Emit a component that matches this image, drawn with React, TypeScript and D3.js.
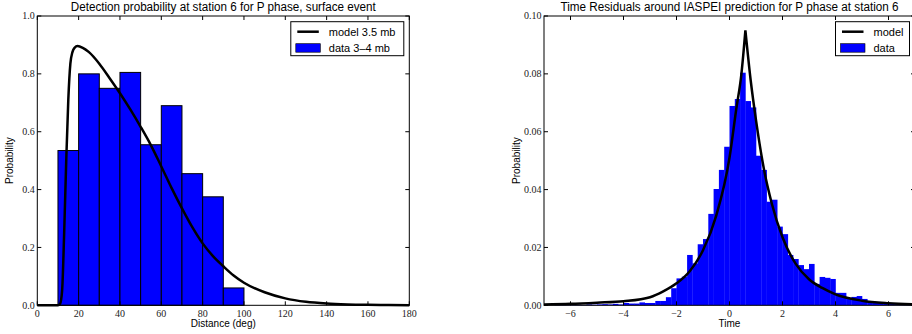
import * as d3 from "d3";

const W = 912;
const H = 334;

/* ---------------- left panel: detection probability ---------------- */

const distBinLeft = [10, 20, 30, 40, 50, 60, 70, 80, 90];
const distBinWidth = 10;
const distProb = [0.535, 0.8, 0.75, 0.805, 0.555, 0.69, 0.455, 0.375, 0.06];

const distModelX = [
  0, 10, 11, 12, 13, 14, 15, 16, 17, 18, 19.5, 22, 25, 30, 35, 40, 45, 50, 55, 60,
  65, 70, 75, 80, 85, 90, 95, 100, 110, 120, 130, 140, 150, 160, 170, 180,
];
const distModelY = [
  0, 0, 0.005, 0.05, 0.25, 0.5, 0.71, 0.835, 0.875, 0.89, 0.896, 0.89, 0.875, 0.835,
  0.785, 0.733, 0.677, 0.617, 0.553, 0.48, 0.405, 0.335, 0.27, 0.214, 0.17, 0.135,
  0.103, 0.078, 0.045, 0.024, 0.012, 0.006, 0.003, 0.0015, 0.0007, 0.0003,
];

const distXTicks = [0, 20, 40, 60, 80, 100, 120, 140, 160, 180];
const distYTicks = [0, 0.2, 0.4, 0.6, 0.8, 1.0];

/* ---------------- right panel: time residuals ---------------- */

const residFirstBin = -6.6;
const residBinWidth = 0.2;
const residProb = [
  0.0001, 0.0002, 0.0001, 0.0002, 0.0002, 0.0001, 0.0003, 0.0002, 0.0003, 0.0004,
  0.0003, 0.0005, 0.0003, 0.0008, 0.0006, 0.0006, 0.001, 0.0008, 0.0008, 0.0015,
  0.0015, 0.0028, 0.0059, 0.0093, 0.0099, 0.0174, 0.0145, 0.0211, 0.0229, 0.0316,
  0.0402, 0.0468, 0.0548, 0.0689, 0.0713, 0.0804, 0.0706, 0.0684, 0.0517, 0.0468,
  0.0358, 0.0365, 0.0272, 0.0246, 0.0174, 0.016, 0.0139, 0.0125, 0.0143, 0.0074,
  0.0098, 0.0095, 0.0091, 0.0043, 0.0043, 0.0025, 0.0029, 0.0032, 0.0022, 0.0014,
  0.0011, 0.0008, 0.0007, 0.0006, 0.0004, 0.0003, 0.0002, 0.0001,
];

// model curve, split at the peak so the cusp stays sharp
const residModelLeftX = [-7, -6, -5, -4, -3, -2.5, -2, -1.5, -1, -0.5, 0, 0.25, 0.45, 0.6];
const residModelLeftY = [
  0.0003, 0.0005, 0.0009, 0.0014, 0.0028, 0.0048, 0.0076, 0.0118, 0.019, 0.031, 0.051,
  0.0675, 0.08, 0.095,
];
const residModelRightX = [0.6, 0.8, 1.0, 1.3, 1.6, 2.0, 2.5, 3.0, 3.5, 4.0, 5.0, 6.0, 7.0];
const residModelRightY = [
  0.095, 0.0777, 0.064, 0.047, 0.035, 0.0235, 0.0143, 0.009, 0.006, 0.0038, 0.0016,
  0.0007, 0.0003,
];

const residXTicks = [-6, -4, -2, 0, 2, 4, 6];
const residYTicks = [0, 0.02, 0.04, 0.06, 0.08, 0.1];

/* ---------------- shared bits ---------------- */

const SANS = "'Liberation Sans', Arial, sans-serif";
const SERIF = "'Liberation Serif', 'Times New Roman', serif";
const BLUE = "#0000ff";

const top = 16;
const bottom = 305.3;

type PanelProps = {
  left: number;
  right: number;
  xDomain: [number, number];
  yDomain: [number, number];
  xTicks: number[];
  yTicks: number[];
  xFmt: (v: number) => string;
  yFmt: (v: number) => string;
  title: string;
  titleWidth: number;
  xLabel: string;
  legendWidth: number;
  legendLabels: [string, string];
  render: (x: d3.ScaleLinear<number, number>, y: d3.ScaleLinear<number, number>) => JSX.Element;
};

function Panel(p: PanelProps) {
  const x = d3.scaleLinear().domain(p.xDomain).range([p.left, p.right]);
  const y = d3.scaleLinear().domain(p.yDomain).range([bottom, top]);
  const tl = 4;
  const cx = (p.left + p.right) / 2;
  const lgRight = p.right - 5.5;
  const lgLeft = lgRight - p.legendWidth;
  const lgTop = 21.7;
  return (
    <g>
      {p.render(x, y)}

      {/* spines */}
      <rect
        x={p.left}
        y={top}
        width={p.right - p.left}
        height={bottom - top}
        fill="none"
        stroke="#000"
        strokeWidth={1}
      />

      {/* ticks */}
      {p.xTicks.map((t) => (
        <g key={"x" + t}>
          <line x1={x(t)} x2={x(t)} y1={bottom} y2={bottom - tl} stroke="#000" />
          <line x1={x(t)} x2={x(t)} y1={top} y2={top + tl} stroke="#000" />
          <text
            x={x(t)}
            y={bottom + 11.5}
            textAnchor="middle"
            fontFamily={SERIF}
            fontSize={10}
            fill="#222"
          >
            {p.xFmt(t)}
          </text>
        </g>
      ))}
      {p.yTicks.map((t) => (
        <g key={"y" + t}>
          <line x1={p.left} x2={p.left + tl} y1={y(t)} y2={y(t)} stroke="#000" />
          <line x1={p.right} x2={p.right - tl} y1={y(t)} y2={y(t)} stroke="#000" />
          <text
            x={p.left - 2.5}
            y={y(t)}
            dy="0.33em"
            textAnchor="end"
            fontFamily={SERIF}
            fontSize={10}
            fill="#222"
          >
            {p.yFmt(t)}
          </text>
        </g>
      ))}

      {/* labels */}
      <text
        x={cx}
        y={11}
        textAnchor="middle"
        fontFamily={SANS}
        fontSize={12}
        textLength={p.titleWidth}
        lengthAdjust="spacingAndGlyphs"
      >
        {p.title}
      </text>
      <text x={cx} y={326.5} textAnchor="middle" fontFamily={SANS} fontSize={10}>
        {p.xLabel}
      </text>
      <text
        transform={`translate(${p.left - 24.5},${(top + bottom) / 2}) rotate(-90)`}
        textAnchor="middle"
        fontFamily={SANS}
        fontSize={10}
      >
        Probability
      </text>

      {/* legend */}
      <rect
        x={lgLeft}
        y={lgTop}
        width={p.legendWidth}
        height={34}
        fill="#fff"
        stroke="#000"
        strokeWidth={1}
      />
      <line
        x1={lgLeft + 6.5}
        x2={lgLeft + 28}
        y1={lgTop + 10}
        y2={lgTop + 10}
        stroke="#000"
        strokeWidth={2.5}
      />
      <rect x={lgLeft + 5} y={lgTop + 22} width={24.5} height={8.5} fill={BLUE} stroke="#000" strokeWidth={0.6} />
      <text x={lgLeft + 38} y={lgTop + 14} fontFamily={SANS} fontSize={11}>
        {p.legendLabels[0]}
      </text>
      <text x={lgLeft + 38} y={lgTop + 30} fontFamily={SANS} fontSize={11}>
        {p.legendLabels[1]}
      </text>
    </g>
  );
}

const fmt1 = d3.format(".1f");
const fmt2 = d3.format(".2f");
const fmtInt = (v: number) => (v < 0 ? "\u2212" + Math.abs(v) : String(v));

export default function App() {
  return (
    <svg
      width={W}
      height={H}
      viewBox={`0 0 ${W} ${H}`}
      style={{ position: "absolute", left: 0, top: 0, background: "#fff" }}
    >
      <Panel
        left={37.3}
        right={409.3}
        xDomain={[0, 180]}
        yDomain={[0, 1]}
        xTicks={distXTicks}
        yTicks={distYTicks}
        xFmt={(v) => String(v)}
        yFmt={fmt1}
        title="Detection probability at station 6 for P phase, surface event"
        titleWidth={305}
        xLabel="Distance (deg)"
        legendWidth={113}
        legendLabels={["model 3.5 mb", "data 3\u20134 mb"]}
        render={(x, y) => {
          const pts = distModelX.map((d, i) => [x(d), y(distModelY[i])] as [number, number]);
          const path = d3.line().curve(d3.curveMonotoneX)(pts) ?? "";
          return (
            <g>
              {distBinLeft.map((b, i) => (
                <rect
                  key={b}
                  x={x(b)}
                  y={y(distProb[i])}
                  width={x(b + distBinWidth) - x(b)}
                  height={y(0) - y(distProb[i])}
                  fill={BLUE}
                  stroke="#000"
                  strokeWidth={1}
                />
              ))}
              <path d={path} fill="none" stroke="#000" strokeWidth={2.5} />
            </g>
          );
        }}
      />
      <Panel
        left={544}
        right={915}
        xDomain={[-7, 7]}
        yDomain={[0, 0.1]}
        xTicks={residXTicks}
        yTicks={residYTicks}
        xFmt={fmtInt}
        yFmt={fmt2}
        title="Time Residuals around IASPEI prediction for P phase at station 6"
        titleWidth={338}
        xLabel="Time"
        legendWidth={74}
        legendLabels={["model", "data"]}
        render={(x, y) => {
          const lp = residModelLeftX.map((d, i) => [x(d), y(residModelLeftY[i])] as [number, number]);
          const rp = residModelRightX.map((d, i) => [x(d), y(residModelRightY[i])] as [number, number]);
          const mk = d3.line().curve(d3.curveMonotoneX);
          return (
            <g>
              {residProb.map((v, i) => {
                const b = residFirstBin + i * residBinWidth;
                return (
                  <rect
                    key={i}
                    x={x(b)}
                    y={y(v)}
                    width={x(b + residBinWidth) - x(b) + 0.3}
                    height={y(0) - y(v)}
                    fill={BLUE}
                  />
                );
              })}
              <path
                d={(mk(lp) ?? "") + (mk(rp) ?? "").replace(/^M/, "L")}
                fill="none"
                stroke="#000"
                strokeWidth={2.5}
                strokeLinejoin="miter"
              />
            </g>
          );
        }}
      />
    </svg>
  );
}
